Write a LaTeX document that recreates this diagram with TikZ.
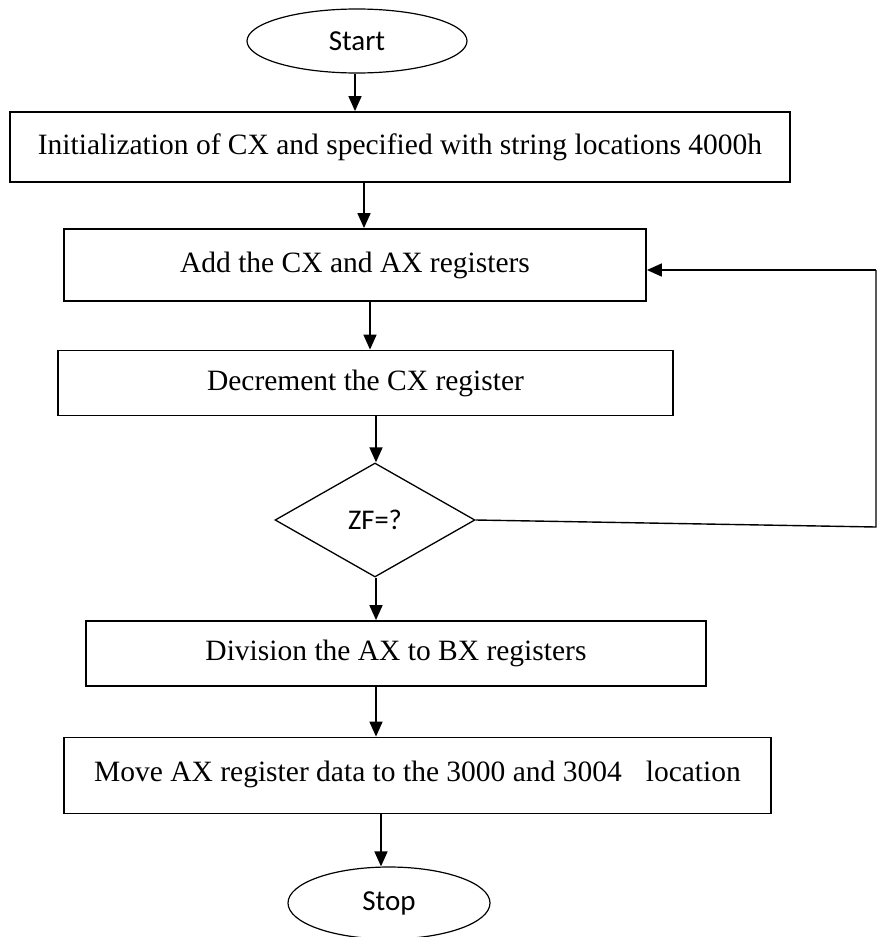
\documentclass[tikz,border=0pt]{standalone}
\usepackage{fontspec}
\setmainfont{Liberation Serif}
\newfontfamily\labelfont{Carlito}
\usetikzlibrary{shapes.geometric,arrows.meta}

\begin{document}
\begin{tikzpicture}[x=1pt,y=-1pt,
  terminal/.style={draw,ellipse,inner sep=0pt,font=\labelfont\fontsize{29}{33}\selectfont,line width=1.2pt},
  stepbox/.style={draw,rectangle,inner sep=0pt,font=\fontsize{29.5}{33}\selectfont,line width=1.8pt},
  decision/.style={draw,diamond,inner sep=0pt,font=\labelfont\fontsize{28.5}{32}\selectfont,line width=1.3pt},
  arr/.style={line width=1.6pt,-{Triangle[length=15pt,width=13pt]}},
  link/.style={line width=1.4pt}]
  \useasboundingbox (0,0) rectangle (878,937);

  % terminals, process boxes and the test
  \node[terminal,minimum width=220pt,minimum height=64pt] (start) at (357,41) {Start};
  \node[stepbox,minimum width=780pt,minimum height=70pt] (b1) at (400,147)
    {Initialization of CX and specified with string locations 4000h};
  \node[stepbox,minimum width=582pt,minimum height=72pt] (b2) at (355,265)
    {\raisebox{4pt}{Add the CX and AX registers}};
  \node[stepbox,minimum width=615pt,minimum height=65pt] (b3) at (365.5,383)
    {\raisebox{2pt}{Decrement the CX register}};
  \node[decision,minimum width=200pt,minimum height=114pt] (d) at (375,520) {ZF=?};
  \node[stepbox,minimum width=620pt,minimum height=65pt] (b4) at (396,653.5)
    {\raisebox{4pt}{Division the AX to BX registers}};
  \node[stepbox,minimum width=707pt,minimum height=76pt] (b5) at (417.5,775.5)
    {\raisebox{8pt}{Move AX register data to the 3000 and 3004\hspace*{24pt}location}};
  \node[terminal,minimum width=202pt,minimum height=72pt] (stop) at (389,903) {Stop};

  % main flow
  \draw[arr] ([xshift=-2pt]start.south) -- ([xshift=-2pt]start.south |- b1.north);
  \draw[arr] ([xshift=9pt]b2.north |- b1.south) -- ([xshift=9pt]b2.north);
  \draw[arr] ([xshift=15pt]b2.south) -- ([xshift=15pt]b2.south |- b3.north);
  \draw[arr] ([xshift=1pt]d.north |- b3.south) -- ([xshift=1pt]d.north);
  \draw[arr] ([xshift=1pt]d.south) -- ([xshift=1pt]d.south |- b4.north);
  \draw[arr] ([xshift=1pt]d.south |- b4.south) -- ([xshift=1pt]d.south |- b5.north);
  \draw[arr] ([xshift=-8pt]stop.north |- b5.south) -- ([xshift=-8pt]stop.north);

  % loop back from the test to the add step
  \coordinate (lb) at (876,527);
  \coordinate (lt) at (876,270);
  \draw[link] (d.east) -- (lb) -- (lt);
  \draw[arr] (lt) -- (b2.east |- lt);
\end{tikzpicture}
\end{document}
